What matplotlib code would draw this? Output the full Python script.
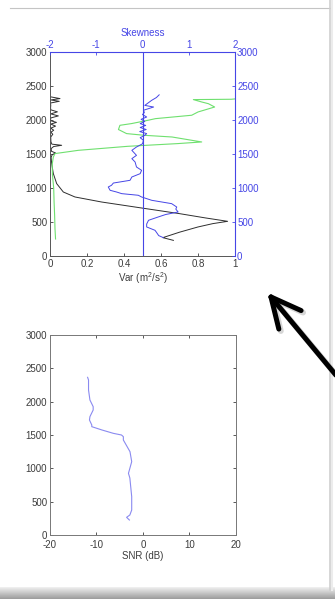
import numpy as np
import matplotlib
matplotlib.use("Agg")
import matplotlib.pyplot as plt
from matplotlib.lines import Line2D

plt.rcParams['font.family'] = ['Liberation Sans', 'DejaVu Sans']
plt.rcParams['mathtext.default'] = 'regular'
plt.rcParams['axes.unicode_minus'] = False

# ---------------- data ----------------
depth_ticks = [0, 500, 1000, 1500, 2000, 2500, 3000]
var_ticks = [0, 0.2, 0.4, 0.6, 0.8, 1]
var_ticklabels = ['0', '0.2', '0.4', '0.6', '0.8', '1']
skew_ticks = [-2, -1, 0, 1, 2]
snr_ticks = [-20, -10, 0, 10, 20]

# Variance profile (black)
var_depth = [230, 270, 350, 427, 476, 510, 560, 623, 706, 794, 868, 941, 1065, 1212,
             1359, 1450, 1490, 1515, 1540, 1580, 1610, 1628, 1645, 1680, 1750, 1790,
             1820, 1850, 1880, 1910, 1940, 1965, 1990, 2030, 2060, 2090, 2120, 2150,
             2180, 2210, 2250, 2275, 2295, 2315, 2340]
var_vals = [0.667, 0.61, 0.70, 0.80, 0.88, 0.96, 0.84, 0.70, 0.495, 0.279, 0.135, 0.072,
            0.036, 0.018, 0.009, 0.006, 0.012, 0.03, 0.008, 0.006, 0.02, 0.063, 0.01,
            0.005, 0.004, 0.015, 0.005, 0.02, 0.004, 0.03, 0.004, 0.035, 0.003, 0.004,
            0.045, 0.004, 0.04, 0.004, 0.003, 0.004, 0.003, 0.05, 0.004, 0.054, 0.004]

# Second profile on variance axis (green)
green_depth = [250, 400, 600, 800, 1000, 1200, 1350, 1456, 1506, 1554, 1613, 1653, 1677,
               1750, 1775, 1800, 1860, 1922, 1947, 1996, 2020, 2070, 2118, 2191, 2240,
               2265, 2300, 2305, 2310]
green_vals = [0.03, 0.027, 0.025, 0.022, 0.02, 0.013, 0.012, 0.018, 0.027, 0.153, 0.42,
              0.69, 0.82, 0.66, 0.51, 0.414, 0.37, 0.378, 0.44, 0.53, 0.57, 0.766, 0.80,
              0.89, 0.856, 0.82, 0.775, 0.98, 1.0]

# Skewness profile (blue)
skew_depth = [270, 300, 350, 378, 427, 470, 525, 574, 610, 647, 690, 720, 770, 819, 868,
              893, 917, 941, 966, 1015, 1040, 1073, 1113, 1162, 1211, 1260, 1309, 1382,
              1432, 1480, 1554, 1603, 1650, 1701, 1740, 1775, 1800, 1830, 1860, 1890,
              1920, 1947, 1980, 2010, 2044, 2080, 2110, 2143, 2191, 2215, 2250, 2290,
              2330, 2370]
skew_vals = [0.45, 0.35, 0.3, 0.27, 0.09, 0.09, 0.13, 0.34, 0.5, 0.77, 0.72, 0.74, 0.63,
             0.2, -0.02, -0.09, -0.45, -0.56, -0.70, -0.74, -0.67, -0.63, -0.27, -0.23,
             -0.05, -0.02, -0.13, -0.16, -0.23, -0.13, -0.23, -0.13, 0.0, 0.02, -0.05,
             0.05, 0.09, -0.06, 0.08, -0.05, 0.07, -0.05, 0.05, -0.03, 0.09, 0.0, 0.04,
             0.02, 0.24, 0.05, 0.12, 0.2, 0.3, 0.36]

# SNR profile
snr_depth = [225, 265, 300, 375, 575, 855, 925, 1000, 1100, 1250, 1425, 1475, 1500,
             1525, 1575, 1625, 1650, 1725, 1775, 1875, 1925, 2025, 2175, 2325, 2365]
snr_vals = [-2.9, -3.5, -2.8, -2.4, -2.4, -2.8, -3.1, -2.8, -2.4, -2.77, -4.2, -4.2,
            -4.6, -6.36, -8.8, -11.0, -11.0, -11.5, -11.4, -10.7, -10.7, -11.4, -11.7,
            -11.7, -11.9]

# ---------------- figure ----------------
W, H = 335, 599
fig = plt.figure(figsize=(W / 100, H / 100), dpi=100)
fig.patch.set_facecolor('white')

blue = '#4646e6'
dark = '#3c3c3c'
spine_grey = '#555555'
fs = 7


def px_rect(l, t, r, b):
    return [l / W, 1 - b / H, (r - l) / W, (b - t) / H]


# Top panel: variance + green on bottom/left axes
pos_top = px_rect(50, 52, 235, 256)
ax1 = fig.add_axes(pos_top)
ax1.plot(var_vals, var_depth, color='#2e2e2e', lw=0.7)
ax1.plot(green_vals, green_depth, color='#6fe06f', lw=0.8, clip_on=True)
ax1.set_xlim(0, 1)
ax1.set_ylim(0, 3000)
ax1.set_xticks(var_ticks)
ax1.set_xticklabels(var_ticklabels)
ax1.set_yticks(depth_ticks)
ax1.tick_params(direction='in', length=2.5, width=0.6, labelsize=fs, colors=dark,
                pad=2, top=False, right=False)
for s in ['left', 'bottom']:
    ax1.spines[s].set_color(spine_grey)
    ax1.spines[s].set_linewidth(0.7)
for s in ['top', 'right']:
    ax1.spines[s].set_visible(False)
ax1.set_xlabel('Var (m$^2$/s$^2$)', fontsize=fs, color=dark, labelpad=1)

# Skewness on top/right axes
ax2 = fig.add_axes(pos_top, facecolor='none')
ax2.plot(skew_vals, skew_depth, color=blue, lw=0.7)
ax2.axvline(0, color=blue, lw=0.8)
ax2.set_xlim(-2, 2)
ax2.set_ylim(0, 3000)
ax2.set_xticks(skew_ticks)
ax2.set_yticks(depth_ticks)
ax2.xaxis.tick_top()
ax2.yaxis.tick_right()
ax2.xaxis.set_label_position('top')
ax2.tick_params(direction='in', length=2.5, width=0.6, labelsize=fs, colors=blue, pad=1.5)
for s in ['left', 'bottom']:
    ax2.spines[s].set_visible(False)
for s in ['top', 'right']:
    ax2.spines[s].set_color(blue)
    ax2.spines[s].set_linewidth(0.8)
ax2.set_xlabel('Skewness', fontsize=fs, color=blue, labelpad=3)

# Bottom panel: SNR
ax3 = fig.add_axes(px_rect(50, 335, 235.7, 535))
ax3.plot(snr_vals, snr_depth, color='#8a8af0', lw=0.8)
ax3.set_xlim(-20, 20)
ax3.set_ylim(0, 3000)
ax3.set_xticks(snr_ticks)
ax3.set_yticks(depth_ticks)
ax3.tick_params(direction='in', length=2.5, width=0.6, labelsize=fs, colors=dark,
                pad=2, top=True, right=True)
ax3.tick_params(axis='x', pad=3.5)
for s in ax3.spines.values():
    s.set_color('#777777')
    s.set_linewidth(0.7)
ax3.set_xlabel('SNR (dB)', fontsize=fs, color=dark, labelpad=0.5)

# ---------------- decorations (slide frame + arrow) ----------------
def fx(x):
    return x / W


def fy(y):
    return 1 - y / H


fig.add_artist(Line2D([fx(10), fx(331)], [fy(8), fy(8)], color='#c4c4c4', lw=0.8,
                      transform=fig.transFigure))
fig.add_artist(Line2D([fx(330), fx(330)], [fy(0), fy(590)], color='#cfcfcf', lw=1.2,
                      transform=fig.transFigure))
fig.add_artist(Line2D([fx(332), fx(332)], [fy(0), fy(590)], color='#ececec', lw=1.5,
                      transform=fig.transFigure))

# bottom grey bar (gradient)
axb = fig.add_axes([0, 0, 1, 12 / H])
grad = np.linspace(0.93, 0.62, 12).reshape(-1, 1)
axb.imshow(np.repeat(grad, 10, axis=1), cmap='gray', vmin=0, vmax=1, aspect='auto',
           extent=[0, 1, 0, 1], origin='upper')
axb.axis('off')

# arrow
tip = np.array([271.0, 297.0])
tail = np.array([345.0, 386.0])
d = (tail - tip) / np.linalg.norm(tail - tip)
arm_len = 33
lines = [(tail, tip)]
for ang in (np.deg2rad(26), np.deg2rad(-26)):
    rot = np.array([[np.cos(ang), -np.sin(ang)], [np.sin(ang), np.cos(ang)]])
    end = tip + arm_len * rot @ d
    lines.append((tip, end))
for (a, b) in lines:
    fig.add_artist(Line2D([fx(a[0] + 2), fx(b[0] + 2)], [fy(a[1] + 2), fy(b[1] + 2)],
                          color='#bbbbbb', lw=4.2, alpha=0.6, solid_capstyle='round',
                          transform=fig.transFigure))
for (a, b) in lines:
    fig.add_artist(Line2D([fx(a[0]), fx(b[0])], [fy(a[1]), fy(b[1])], color='black',
                          lw=3.6, solid_capstyle='round', transform=fig.transFigure))

fig.savefig('out.png', dpi=100)
